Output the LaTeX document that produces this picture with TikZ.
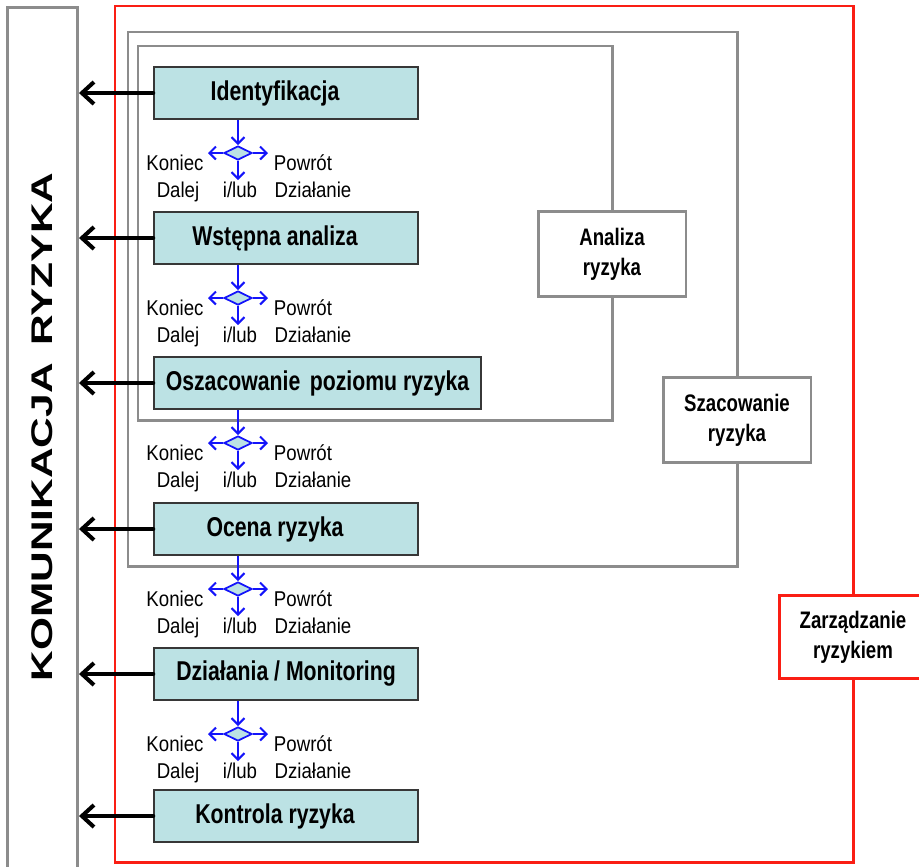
\documentclass[tikz,border=0pt]{standalone}
\usepackage{fontspec}
\setmainfont{Liberation Sans}
\newfontfamily\narrowfont{Liberation Sans}[FakeStretch=0.87]
\newfontfamily\condfont{Liberation Sans}[FakeStretch=0.78]
\newfontfamily\widefont{Liberation Sans}[FakeStretch=1.42]
\usetikzlibrary{arrows.meta, shapes.geometric}

\definecolor{boxfill}{RGB}{188,226,228}
\definecolor{boxedge}{RGB}{55,55,55}
\definecolor{framegray}{RGB}{140,140,140}
\definecolor{zred}{RGB}{250,30,20}
\definecolor{choiceblue}{RGB}{20,20,250}

\tikzset{
    frame/.style={draw=framegray, line width=1.7pt},
    stepbox/.style={draw=boxedge, fill=boxfill, line width=0.9pt, inner sep=0pt,
        minimum width=5.28cm, minimum height=1.04cm,
        font=\condfont\bfseries\fontsize{15.5}{18}\selectfont},
    tagbox/.style={frame, fill=white, align=center, inner sep=0pt,
        minimum width=2.96cm, minimum height=1.7cm,
        font=\condfont\bfseries\fontsize{13.6}{17}\selectfont},
    choice/.style={diamond, aspect=2, draw=choiceblue, fill=boxfill, line width=1pt,
        inner sep=0pt, minimum width=0.56cm, minimum height=0.28cm},
    flow/.style={draw=choiceblue, line width=1.2pt,
        -{Straight Barb[length=0.13cm, width=0.26cm]}},
    report/.style={line width=2.3pt, line cap=round,
        -{Straight Barb[length=0.24cm, width=0.44cm]}},
    lbl/.style={font=\narrowfont\fontsize{12.2}{14}\selectfont, inner sep=0pt, anchor=base}
}

\begin{document}
\begin{tikzpicture}[x=0.02cm, y=-0.02cm]
    \useasboundingbox (0,0) rectangle (919,866);

    % frames
    \node[frame, anchor=north west, inner sep=0pt, minimum width=1.4cm, minimum height=18cm] (kom) at (6,6) {};
    \node[rotate=90, font=\widefont\bfseries\fontsize{17}{20}\selectfont] (komtxt) at (42,427) {KOMUNIKACJA\hspace{0.6em}RYZYKA};
    \draw[frame, draw=zred] (115,6) rectangle (853,862);
    \draw[frame] (128,32) rectangle (737,566);
    \draw[frame] (138,46) rectangle (612,420);

    \node[tagbox] (analiza) at (612,254) {Analiza\\ryzyka};
    \node[tagbox] (szac) at (737,420) {Szacowanie\\ryzyka};
    \node[tagbox, draw=zred, minimum height=1.66cm] (zarz) at (853,637) {Zarządzanie\\ryzykiem};

    % steps
    \foreach \n/\y/\t in {1/93/Identyfikacja, 2/238/Wstępna analiza, 4/529/Ocena ryzyka,
                          6/816/Kontrola ryzyka}
    {
        \node[stepbox] (b\n) at (286,\y) {\t\kern0.44cm};
    }
    \node[stepbox, minimum width=6.54cm] (b3) at (317.5,383) {Oszacowanie\hspace{0.35em}poziomu ryzyka};
    \node[stepbox] (b5) at (286,674) {Działania / Monitoring};

    \foreach \n in {1,...,6}
    {
        \draw[report] (b\n.west) -- (b\n.west -| kom.east);
    }

    % decisions
    \foreach \n/\y in {1/153, 2/298, 3/443, 4/589, 5/734}
    {
        \node[choice] (d\n) at (238,\y) {};
        \coordinate (l\n) at (208,\y);
        \coordinate (r\n) at (268,\y);
        \coordinate (s\n) at (238,\y+27);
        \draw[flow] (d\n.north |- b\n.south) -- (d\n.north);
        \draw[flow] (d\n.west) -- (l\n);
        \draw[flow] (d\n.east) -- (r\n);
        \draw[flow] (d\n.south) -- (s\n);

        \node[lbl] (k\n) at (175,\y+17) {Koniec};
        \node[lbl] (p\n) at (303,\y+17) {Powrót};
        \node[lbl] (e\n) at (178,\y+44) {Dalej};
        \node[lbl] (i\n) at (240,\y+44) {i/lub};
        \node[lbl] (a\n) at (313,\y+44) {Działanie};
    }
\end{tikzpicture}
\end{document}
